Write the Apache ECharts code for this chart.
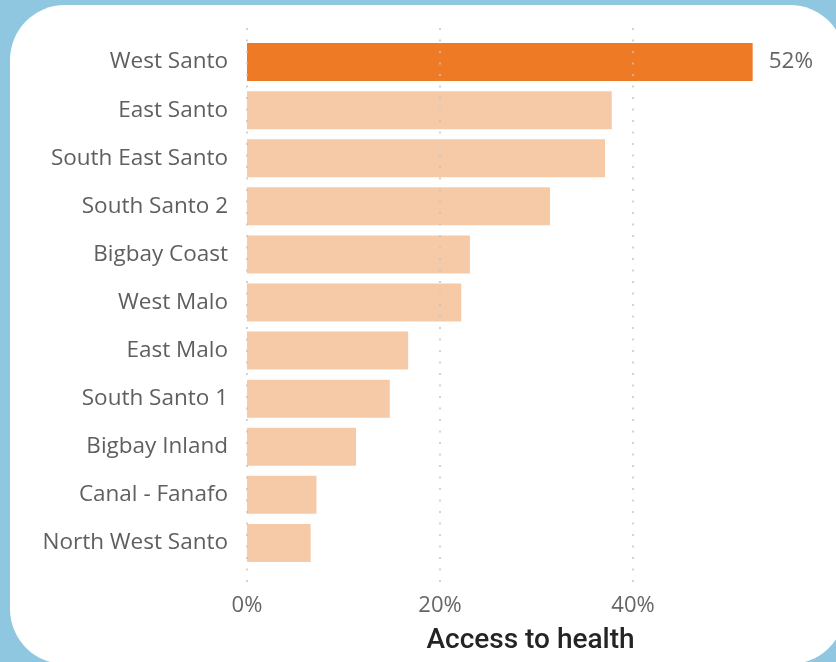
<!DOCTYPE html>
<html><head><meta charset="utf-8">
<script src="https://cdn.jsdelivr.net/npm/echarts@6/dist/echarts.min.js"></script>
<style>html,body{margin:0;padding:0;background:#8fc7e0;}#c{width:836px;height:662px;}</style>
</head><body><div id="c"></div>
<script>
const categories = ['West Santo','East Santo','South East Santo','South Santo 2','Bigbay Coast','West Malo','East Malo','South Santo 1','Bigbay Inland','Canal - Fanafo','North West Santo'];
const values = [52.4, 37.8, 37.1, 31.4, 23.1, 22.2, 16.7, 14.8, 11.3, 7.2, 6.6];
const highlighted = 'West Santo';
const tickValues = [0, 20, 40];
const axisTitle = 'Access to health';

const chart = echarts.init(document.getElementById('c'));
const FONT = "'Open Sans', 'Noto Sans', sans-serif";
chart.setOption({
  animation: false,
  graphic: [{
    type: 'rect', z: -10, silent: true,
    shape: { x: 10, y: 5, width: 835, height: 659, r: 55 },
    style: { fill: '#ffffff' }
  }],
  grid: [
    { left: 247, width: 579, top: 38, bottom: 95 },
    { left: 247, width: 386, top: 28, bottom: 80 }
  ],
  xAxis: [
    {
      gridIndex: 0, type: 'value', min: 0, max: 60,
      axisLine: { show: false }, axisTick: { show: false },
      axisLabel: { show: false }, splitLine: { show: false },
      name: axisTitle, nameLocation: 'middle', nameGap: 60,
      nameTextStyle: { fontFamily: "'Roboto', 'Noto Sans', sans-serif", fontWeight: 500, fontSize: 28, color: '#252423', padding: [0, 12, 0, 0] }
    },
    {
      gridIndex: 1, type: 'value', min: 0, max: 40, interval: 20, z: 5,
      axisLine: { show: false }, axisTick: { show: false },
      axisLabel: { fontFamily: FONT, fontSize: 22, color: '#666666', margin: 13, formatter: v => v + '%' },
      splitLine: { show: true, lineStyle: { color: '#c4c4c4', width: 1.5, type: [2, 9.5] } }
    }
  ],
  yAxis: [
    {
      gridIndex: 0, type: 'category', data: categories, inverse: true,
      axisLine: { show: false }, axisTick: { show: false },
      axisLabel: { fontFamily: FONT, fontSize: 22.5, color: '#5f5f5f', margin: 19, padding: [4, 0, 0, 0] }
    },
    {
      gridIndex: 1, type: 'category', data: [''], show: false
    }
  ],
  series: [{
    type: 'bar', xAxisIndex: 0, yAxisIndex: 0,
    barCategoryGap: '21%',
    data: values.map((v, i) => ({
      value: v,
      itemStyle: { color: categories[i] === highlighted ? '#ee7a26' : '#f6caa7' },
      label: {
        show: categories[i] === highlighted, position: 'right', distance: 16,
        formatter: p => Math.round(p.value) + '%',
        fontFamily: FONT, fontSize: 22.5, color: '#666666', padding: [4, 0, 0, 0]
      }
    }))
  }]
});
</script></body></html>
